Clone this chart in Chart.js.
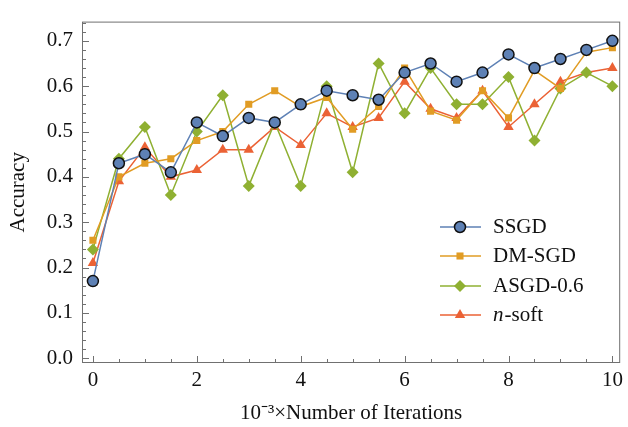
<!DOCTYPE html>
<html>
<head>
<meta charset="utf-8">
<script src="https://cdn.jsdelivr.net/npm/chart.js@4.4.0/dist/chart.umd.min.js"></script>
<style>
  html, body { margin: 0; padding: 0; background: #fff; }
</style>
</head>
<body>
<canvas id="chart" width="628" height="427"></canvas>
<script>
// data
const iterations = [0, 0.5, 1, 1.5, 2, 2.5, 3, 3.5, 4, 4.5, 5, 5.5, 6, 6.5, 7, 7.5, 8, 8.5, 9, 9.5, 10];
const ssgd  = [0.17, 0.43, 0.45, 0.41, 0.52, 0.49, 0.53, 0.52, 0.56, 0.59, 0.58, 0.57, 0.63, 0.65, 0.61, 0.63, 0.67, 0.64, 0.66, 0.68, 0.70];
const dmsgd = [0.26, 0.40, 0.43, 0.44, 0.48, 0.50, 0.56, 0.59, 0.555, 0.575, 0.505, 0.555, 0.64, 0.545, 0.525, 0.59, 0.53, 0.635, 0.595, 0.675, 0.685];
const asgd  = [0.24, 0.44, 0.51, 0.36, 0.50, 0.58, 0.38, 0.52, 0.38, 0.60, 0.41, 0.65, 0.54, 0.64, 0.56, 0.56, 0.62, 0.48, 0.595, 0.63, 0.60];
const nsoft = [0.21, 0.39, 0.465, 0.40, 0.415, 0.46, 0.46, 0.51, 0.47, 0.54, 0.51, 0.53, 0.61, 0.55, 0.53, 0.59, 0.51, 0.56, 0.61, 0.63, 0.64];

const xTicks = [0, 2, 4, 6, 8, 10];
const yTicks = [0, 0.1, 0.2, 0.3, 0.4, 0.5, 0.6, 0.7];

const serif = "'Liberation Serif', 'Times New Roman', serif";
const fontSize = 21;
const frameColor = "#707070";

function pts(ys) {
    return ys.map((y, i) => ({ x: iterations[i], y: y }));
}

// frame and inward ticks, Mathematica style
const framePlugin = {
    id: 'frame',
    afterDatasetsDraw(chart) {
        const ctx = chart.ctx;
        const a = chart.chartArea;
        const xs = chart.scales.x, ys = chart.scales.y;
        ctx.save();
        ctx.strokeStyle = frameColor;
        ctx.lineWidth = 1;
        ctx.strokeRect(a.left + 0.5, a.top + 0.5, a.right - a.left - 1, a.bottom - a.top - 1);
        ctx.beginPath();
        for (let v = 0; v <= 10.001; v += 0.5) {
            const px = Math.round(xs.getPixelForValue(v)) + 0.5;
            const len = (Math.abs(v % 2) < 0.001) ? 7 : 4;
            ctx.moveTo(px, a.bottom);
            ctx.lineTo(px, a.bottom - len);
        }
        for (let k = 0; k <= 37; k++) {
            const v = k * 0.02;
            const py = Math.round(ys.getPixelForValue(v)) + 0.5;
            const len = (k % 5 === 0) ? 7 : 4;
            ctx.moveTo(a.left, py);
            ctx.lineTo(a.left + len, py);
        }
        ctx.stroke();
        ctx.restore();
    }
};

// legend inside the plot, bottom right
const legendPlugin = {
    id: 'insideLegend',
    afterDraw(chart) {
        const ctx = chart.ctx;
        const rows = [227, 256, 286, 315];
        ctx.save();
        chart.data.datasets.forEach((ds, i) => {
            const y = rows[i];
            ctx.strokeStyle = ds.borderColor;
            ctx.lineWidth = 1.5;
            ctx.beginPath();
            ctx.moveTo(440, y);
            ctx.lineTo(481, y);
            ctx.stroke();
            ctx.fillStyle = ds.pointBackgroundColor;
            ctx.strokeStyle = ds.pointBorderColor;
            ctx.lineWidth = ds.pointBorderWidth;
            Chart.helpers.drawPoint(ctx, {
                pointStyle: ds.pointStyle,
                radius: ds.pointRadius,
                borderWidth: ds.pointBorderWidth,
                rotation: 0
            }, 460, y);
            ctx.fillStyle = "#111";
            ctx.textBaseline = "middle";
            if (ds.label === "n-soft") {
                ctx.font = "italic " + fontSize + "px " + serif;
                ctx.fillText("n", 493, y);
                const w = ctx.measureText("n").width;
                ctx.font = fontSize + "px " + serif;
                ctx.fillText("-soft", 493 + w + 1, y);
            } else {
                ctx.font = fontSize + "px " + serif;
                ctx.fillText(ds.label, 493, y);
            }
        });
        ctx.restore();
    }
};

const whiteBg = {
    id: 'whiteBg',
    beforeDraw(chart) {
        const ctx = chart.ctx;
        ctx.save();
        ctx.fillStyle = "#fff";
        ctx.fillRect(0, 0, chart.width, chart.height);
        ctx.restore();
    }
};

const chart = new Chart(document.getElementById('chart'), {
    type: 'line',
    data: {
        datasets: [
            {
                label: "SSGD", data: pts(ssgd),
                borderColor: "#5E81B5", borderWidth: 1.5,
                pointStyle: 'circle', pointRadius: 5.5,
                pointBackgroundColor: "#5E81B5", pointBorderColor: "#111", pointBorderWidth: 1.5
            },
            {
                label: "DM-SGD", data: pts(dmsgd),
                borderColor: "#E19C24", borderWidth: 1.5,
                pointStyle: 'rect', pointRadius: 5,
                pointBackgroundColor: "#E19C24", pointBorderColor: "#E19C24", pointBorderWidth: 0
            },
            {
                label: "ASGD-0.6", data: pts(asgd),
                borderColor: "#8FB032", borderWidth: 1.5,
                pointStyle: 'rectRot', pointRadius: 6,
                pointBackgroundColor: "#8FB032", pointBorderColor: "#8FB032", pointBorderWidth: 0
            },
            {
                label: "n-soft", data: pts(nsoft),
                borderColor: "#EB6235", borderWidth: 1.5,
                pointStyle: 'triangle', pointRadius: 6,
                pointBackgroundColor: "#EB6235", pointBorderColor: "#EB6235", pointBorderWidth: 0
            }
        ]
    },
    options: {
        responsive: false,
        animation: false,
        layout: { padding: { top: 8, right: 2, left: 0, bottom: 0 } },
        elements: { line: { tension: 0 } },
        plugins: {
            legend: { display: false },
            tooltip: { enabled: false }
        },
        scales: {
            x: {
                type: 'linear',
                min: -0.21, max: 10.15,
                afterBuildTicks: (s) => { s.ticks = xTicks.map(v => ({ value: v })); },
                afterFit: (s) => { s.height = 64; },
                grid: { display: false, drawTicks: false },
                border: { display: false },
                ticks: { color: "#111", padding: 5, font: { family: serif, size: fontSize }, maxRotation: 0 },
                title: {
                    display: true, text: "10\u207B\u00B3\u00D7Number of Iterations",
                    color: "#111", font: { family: serif, size: fontSize }, padding: { top: 0, bottom: 1 }
                }
            },
            y: {
                type: 'linear',
                min: -0.0106, max: 0.7424,
                afterBuildTicks: (s) => { s.ticks = yTicks.map(v => ({ value: v })); },
                afterFit: (s) => { s.width = 82; },
                grid: { display: false, drawTicks: false },
                border: { display: false },
                ticks: {
                    color: "#111", padding: 9, font: { family: serif, size: fontSize },
                    callback: (v) => v.toFixed(1)
                },
                title: {
                    display: true, text: "Accuracy",
                    color: "#111", font: { family: serif, size: fontSize }, padding: { top: 6, bottom: 0 }
                }
            }
        }
    },
    plugins: [whiteBg, framePlugin, legendPlugin]
});
</script>
</body>
</html>
